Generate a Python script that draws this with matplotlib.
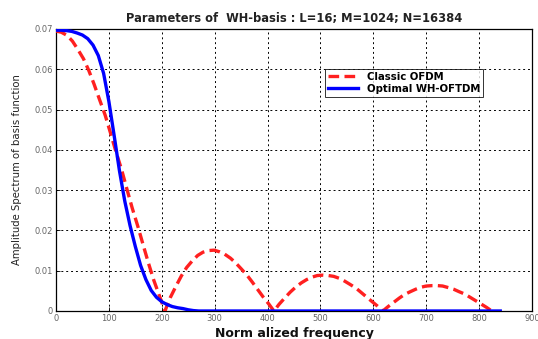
import matplotlib
matplotlib.use("Agg")
import matplotlib.pyplot as plt

plt.rcParams['font.family'] = ['DejaVu Sans']

# ---- data ----
title_text = "Parameters of  WH-basis : L=16; M=1024; N=16384"
x_label = "Norm alized frequency"
y_label = "Amplitude Spectrum of basis function"
legend_labels = ["Classic OFDM", "Optimal WH-OFTDM"]

x_ticks = [0, 100, 200, 300, 400, 500, 600, 700, 800, 900]
y_ticks = [0, 0.01, 0.02, 0.03, 0.04, 0.05, 0.06, 0.07]
y_tick_labels = ["0", "0.01", "0.02", "0.03", "0.04", "0.05", "0.06", "0.07"]

ofdm_freq = [0, 10, 21, 31, 41, 52, 62, 72, 82, 93, 103, 113, 124, 134, 144, 155, 165, 175, 185, 196, 206,
             216, 227, 237, 247, 258, 268, 278, 288, 299, 309, 319, 330, 340, 350, 361, 371, 381, 391, 402, 412,
             422, 433, 443, 453, 464, 474, 484, 494, 505, 515, 525, 536, 546, 556, 567, 577, 587, 597, 608, 618,
             628, 639, 649, 659, 670, 680, 690, 700, 711, 721, 731, 742, 752, 762, 773, 783, 793, 803, 814, 824]
ofdm_amp = [0.0695, 0.0692, 0.0684, 0.0670, 0.0650, 0.0626, 0.0597, 0.0563, 0.0526, 0.0486, 0.0442,
            0.0397, 0.0351, 0.0303, 0.0256, 0.0209, 0.0163, 0.0118, 0.0076, 0.0036, 0.0,
            0.0033, 0.0062, 0.0087, 0.0108, 0.0125, 0.0138, 0.0146, 0.0150, 0.0151, 0.0147,
            0.0141, 0.0131, 0.0119, 0.0105, 0.0089, 0.0072, 0.0054, 0.0036, 0.0018, 0.0,
            0.0017, 0.0033, 0.0047, 0.0059, 0.0070, 0.0078, 0.0084, 0.0088, 0.0089, 0.0088,
            0.0086, 0.0081, 0.0074, 0.0066, 0.0057, 0.0046, 0.0035, 0.0024, 0.0012, 0.0,
            0.0011, 0.0022, 0.0032, 0.0041, 0.0048, 0.0054, 0.0059, 0.0062, 0.0063, 0.0063,
            0.0062, 0.0058, 0.0054, 0.0048, 0.0042, 0.0034, 0.0026, 0.0018, 0.0009, 0.0]

wh_freq = [0, 10, 20, 30, 40, 50, 60, 70, 80, 90, 100, 110, 120, 130, 140, 150, 160, 170, 180, 190,
           200, 210, 220, 230, 240, 250, 260, 270, 300, 400, 500, 600, 700, 800, 840]
wh_amp = [0.0697, 0.0697, 0.0696, 0.0694, 0.0690, 0.0685, 0.0676, 0.0660, 0.0634, 0.0590, 0.0520,
          0.0435, 0.0348, 0.0273, 0.0212, 0.0160, 0.0113, 0.0078, 0.0051, 0.0034,
          0.0023, 0.0016, 0.0011, 0.0008, 0.0006, 0.0003, 0.0001, 0.0, 0.0, 0.0, 0.0, 0.0, 0.0, 0.0, 0.0]

# ---- figure ----
fig = plt.figure(figsize=(5.38, 3.39), dpi=100)
ax = fig.add_axes([56 / 538, 1 - 311 / 339, (532 - 56) / 538, (311 - 29) / 339])

ax.plot(ofdm_freq, ofdm_amp, color='#ff2020', linestyle=(0, (3.2, 1.6)), linewidth=2.4,
        label=legend_labels[0], zorder=3)
ax.plot(wh_freq, wh_amp, color='#0000ff', linestyle='-', linewidth=2.4,
        label=legend_labels[1], zorder=4)

ax.set_xlim(0, 900)
ax.set_ylim(0, 0.07)
ax.set_xticks(x_ticks)
ax.set_xticklabels([str(t) for t in x_ticks])
ax.set_yticks(y_ticks)
ax.set_yticklabels(y_tick_labels)
ax.tick_params(direction='in', length=3, width=0.6, labelsize=6, colors='black',
               labelcolor='#666666', pad=2)
ax.grid(True, color='black', linestyle=(0, (2, 3)), linewidth=0.7)
for s in ax.spines.values():
    s.set_linewidth(0.9)
    s.set_color('black')

ax.set_title(title_text, fontsize=8.3, fontweight='bold', pad=5, color='#222222')
ax.set_xlabel(x_label, fontsize=9, fontweight='bold', labelpad=3, color='#111111')
ax.set_ylabel(y_label, fontsize=7.3, labelpad=9, color='#222222')

leg = ax.legend(loc='upper left', bbox_to_anchor=((325 - 56) / 476, (311 - 69) / 282),
                fontsize=7.3, frameon=True, fancybox=False, handlelength=3.0,
                borderpad=0.3, labelspacing=0.15, handletextpad=0.8, borderaxespad=0)
leg.get_frame().set_edgecolor('black')
leg.get_frame().set_linewidth(0.7)
for t in leg.get_texts():
    t.set_fontweight('bold')

fig.savefig("out.png", dpi=100)
